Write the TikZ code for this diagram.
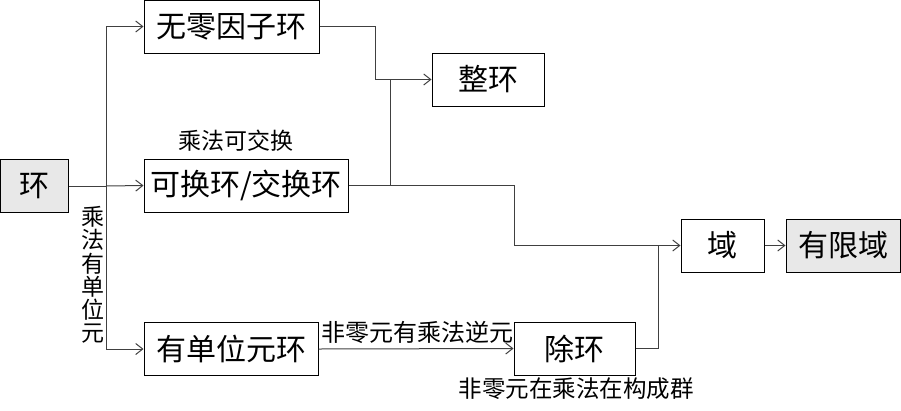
\documentclass[tikz,border=0pt]{standalone}
\usepackage{fontspec}
\newfontfamily\cjk{Noto Sans CJK SC}
\usetikzlibrary{arrows.meta}
\begin{document}
\begin{tikzpicture}[x=1pt,y=-1pt,
  box/.style={draw, line width=1pt, inner sep=0pt, minimum height=53pt, font=\cjk\fontsize{30}{30}\selectfont},
  lbl/.style={inner sep=0pt, font=\cjk\fontsize{23}{23}\selectfont},
  conn/.style={draw=black!75, line width=1pt},
  arr/.style={conn, -{Straight Barb[length=7pt,width=11pt]}}]
\useasboundingbox (0,0) rectangle (901,410);
% nodes
\node[box, fill=black!9, minimum width=68pt] (ring) at (34,186) {环};
\node[box, minimum width=175pt] (nzd) at (231.5,26.5) {无零因子环};
\node[box, minimum width=112pt] (integ) at (488,79.5) {整环};
\node[box, minimum width=204pt] (comm) at (246,185.5) {可换环/交换环};
\node[box, minimum width=174pt] (unit) at (231,349) {有单位元环};
\node[box, minimum width=121pt] (div) at (574.5,348.5) {除环};
\node[box, minimum width=83pt] (field) at (722.5,245.5) {域};
\node[box, fill=black!9, minimum width=114pt] (finite) at (843,245.5) {有限域};
% junctions
\coordinate (t) at (106,186);
\coordinate (k) at (375,79.5);
\coordinate (j) at (390,79.5);
\coordinate (m) at (514,245.5);
\coordinate (n) at (658,245.5);
% connectors
\draw[conn] (ring.east) -- (t);
\draw[arr] (t) |- (nzd.west);
\draw[arr] (t) -- (comm.west);
\draw[arr] (t) |- (unit.west);
\draw[conn] (nzd.east) -| (k);
\draw[arr] (k) -- (integ.west);
\draw[conn] (comm.east) -| (j);
\draw[conn] (comm.east) -| (m);
\draw[arr] (m) -- (field.west);
\draw[conn] (div.east) -| (n);
\draw[arr] (unit.east) -- (div.west);
\draw[arr] (field.east) -- (finite.west);
% labels
\node[lbl] (lc) at (236,141) {乘法可交换};
\node[lbl, align=center, font=\cjk\fontsize{23}{23.3}\selectfont] (lu) at (93,275) {乘\\法\\有\\单\\位\\元};
\node[lbl, font=\cjk\fontsize{24}{26}\selectfont] (li) at (417,332) {非零元有乘法逆元};
\node[lbl, font=\cjk\fontsize{23.5}{24}\selectfont] (lg) at (576,389) {非零元在乘法在构成群};
\end{tikzpicture}
\end{document}
